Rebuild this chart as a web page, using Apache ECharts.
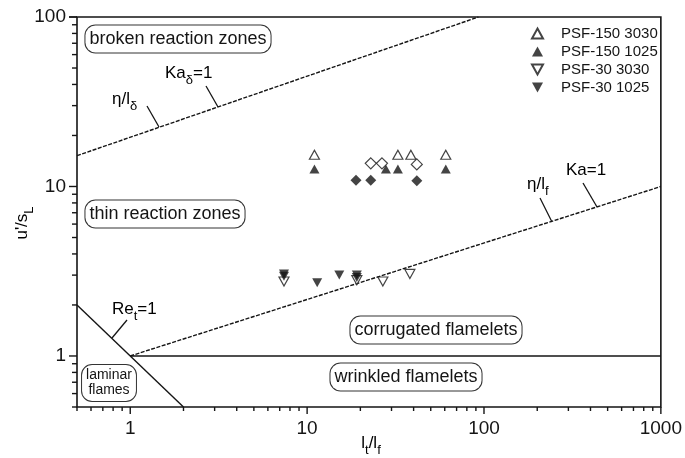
<!doctype html>
<html>
<head>
<meta charset="utf-8">
<style>
  html, body { margin: 0; padding: 0; background: #fff; }
  #main { width: 685px; height: 458px; }
</style>
</head>
<body>
<div id="main"></div>
<script src="https://cdn.jsdelivr.net/npm/echarts@6/dist/echarts.min.js"></script>
<script>
// tick labels
var xTickLabels = [1, 10, 100, 1000];
var yTickLabels = [1, 10, 100];

// measurements
var psf150_3030 = [[11.0, 15.4], [32.6, 15.4], [38.6, 15.4], [60.8, 15.4]];
var psf150_1025 = [[11.0, 12.7], [27.9, 12.7], [32.6, 12.7], [60.8, 12.7]];
var psf30_3030 = [[7.4, 2.75], [19.1, 2.8], [26.8, 2.75], [38.1, 3.05]];
var psf30_1025 = [[7.4, 3.05], [7.4, 2.95], [11.4, 2.7], [15.2, 3.0], [19.1, 3.0], [19.1, 2.9]];
var openDiamonds = [[22.9, 13.7], [26.5, 13.7], [41.7, 13.5]];
var filledDiamonds = [[18.9, 10.9], [22.9, 10.9], [41.7, 10.8]];

// regime borders
var kaDeltaLine = [[0.5, 15.2], [93, 100]];
var kaLine = [[1, 1], [1000, 10]];
var reLine = [[0.5, 2], [2, 0.5]];
var flameletLine = [[1, 1], [1000, 1]];

var FONT = "'Liberation Sans', Arial, Helvetica, sans-serif";
var INK = '#151515';
var TRI_UP = 'path://M5,0 L10,9 L0,9 Z';
var TRI_DOWN = 'path://M0,0 L10,0 L5,9 Z';

function isPow10(v) {
  var l = Math.log(v) / Math.LN10;
  return Math.abs(l - Math.round(l)) < 1e-6;
}

// minor/major tick positions
var xTicks = [], yTicks = [];
[0.1, 1, 10, 100].forEach(function (d) {
  for (var k = 1; k <= 9; k++) {
    var v = +(k * d).toPrecision(6);
    if (v >= 0.5) { xTicks.push([v, 0.5]); if (v <= 100) yTicks.push([0.5, v]); }
  }
});
xTicks.push([1000, 0.5]);
yTicks.push([0.5, 100]);

function tickLabel(list) {
  return function (v) {
    for (var i = 0; i < list.length; i++) {
      if (Math.abs(v - list[i]) / list[i] < 1e-6) return String(list[i]);
    }
    return '';
  };
}

var chart = echarts.init(document.getElementById('main'));

function lineSeries(data, type) {
  return {
    type: 'line', data: data, showSymbol: false, silent: true, z: 1,
    lineStyle: { color: INK, width: 1.4, type: type || 'solid' },
    animation: false
  };
}

function scatter(name, data, symbol, filled, size) {
  return {
    name: name, type: 'scatter', data: data, symbol: symbol,
    symbolSize: size || [10, 9], z: 5,
    itemStyle: { color: filled ? INK : '#fff', borderColor: INK, borderWidth: filled ? 0 : 1.2 }
  };
}

function boxLabel(text, x, y, size) {
  return {
    type: 'text', silent: true, z: 10,
    style: {
      text: text, x: x, y: y, align: 'center', verticalAlign: 'middle',
      font: (size || 18) + 'px ' + FONT, fill: INK,
      backgroundColor: '#fff', borderColor: '#333', borderWidth: 1,
      borderRadius: 10, padding: [3, 4, 3, 4], lineHeight: size ? size + 1 : 21
    }
  };
}

var rich = {
  n: { fontSize: 17, fontFamily: FONT, color: INK, verticalAlign: 'top', lineHeight: 19 },
  s: { fontSize: 13, fontFamily: FONT, color: INK, verticalAlign: 'top', lineHeight: 15, padding: [9, 0, 0, 0] }
};

function annot(text, x, y, extra) {
  var st = { text: text, x: x, y: y, rich: rich, align: 'left', verticalAlign: 'middle' };
  if (extra) for (var k in extra) st[k] = extra[k];
  return { type: 'text', silent: true, z: 10, style: st };
}

function leader(x1, y1, x2, y2) {
  return { type: 'line', silent: true, z: 10,
    shape: { x1: x1, y1: y1, x2: x2, y2: y2 },
    style: { stroke: INK, lineWidth: 1.3 } };
}

var yTitle = annot('{n|u\'/s}{s|L}', 0, 0, { align: 'center' });
yTitle.x = 23;
yTitle.y = 223;
yTitle.rotation = Math.PI / 2;

var option = {
  backgroundColor: '#fff',
  animation: false,
  grid: { left: 77, right: 22, top: 17, bottom: 51, show: true, borderColor: INK, borderWidth: 1.6, backgroundColor: 'transparent' },
  xAxis: {
    type: 'log', logBase: 10, min: 0.5, max: 1000,
    axisLine: { show: false }, axisTick: { show: false }, splitLine: { show: false },
    axisLabel: { formatter: tickLabel(xTickLabels), fontSize: 19, fontFamily: FONT, color: INK, margin: 12, showMinLabel: true, showMaxLabel: true }
  },
  yAxis: {
    type: 'log', logBase: 10, min: 0.5, max: 100,
    axisLine: { show: false }, axisTick: { show: false }, splitLine: { show: false },
    axisLabel: { formatter: tickLabel(yTickLabels), fontSize: 19, fontFamily: FONT, color: INK, margin: 11 }
  },
  legend: {
    orient: 'vertical', left: 526, top: 21, itemGap: 3,
    itemWidth: 11, itemHeight: 10,
    data: ['PSF-150 3030', 'PSF-150 1025', 'PSF-30 3030', 'PSF-30 1025'],
    textStyle: { fontSize: 15, fontFamily: FONT, color: INK, padding: [0, 0, 0, 13] },
    selectedMode: false
  },
  series: [
    lineSeries(kaDeltaLine, [4, 1.5]),
    lineSeries(kaLine, [4, 1.5]),
    lineSeries(reLine),
    lineSeries(flameletLine),
    scatter('PSF-150 3030', psf150_3030, TRI_UP, false),
    scatter('PSF-150 1025', psf150_1025, TRI_UP, true),
    scatter('PSF-30 3030', psf30_3030, TRI_DOWN, false),
    scatter('PSF-30 1025', psf30_1025, TRI_DOWN, true),
    scatter('open diamonds', openDiamonds, 'diamond', false, 11),
    scatter('filled diamonds', filledDiamonds, 'diamond', true, 11),
    {
      type: 'custom', data: xTicks, silent: true, clip: false, encode: { x: 0, y: 1 },
      renderItem: function (params, api) {
        var v = api.value(0);
        var p = api.coord([v, 0.5]);
        var len = isPow10(v) ? 7 : 4;
        return { type: 'line', shape: { x1: p[0], y1: p[1], x2: p[0], y2: p[1] + len }, style: { stroke: INK, lineWidth: 1.4 } };
      }
    },
    {
      type: 'custom', data: yTicks, silent: true, clip: false, encode: { x: 0, y: 1 },
      renderItem: function (params, api) {
        var v = api.value(1);
        var p = api.coord([0.5, v]);
        var len = isPow10(v) ? 8 : 5;
        return { type: 'line', shape: { x1: p[0], y1: p[1], x2: p[0] - len, y2: p[1] }, style: { stroke: INK, lineWidth: 1.4 } };
      }
    }
  ],
  graphic: [
    boxLabel('broken reaction zones', 178, 39),
    boxLabel('thin reaction zones', 165, 214),
    boxLabel('corrugated flamelets', 436, 330),
    boxLabel('wrinkled flamelets', 406, 377),
    boxLabel('laminar\nflames', 109, 383, 14),
    annot('{n|η/l}{s|δ}', 112, 100),
    leader(147, 106, 159, 127),
    annot('{n|Ka}{s|δ}{n|=1}', 165, 74),
    leader(206, 86, 218, 107),
    annot('{n|η/l}{s|f}', 527, 185),
    leader(540, 198, 552, 222),
    annot('{n|Ka=1}', 566, 171),
    leader(583, 183, 597, 207),
    annot('{n|Re}{s|t}{n|=1}', 112, 310),
    leader(127, 320, 112, 338),
    yTitle,
    annot('{n|l}{s|t}{n|/l}{s|f}', 371, 444, { align: 'center' })
  ]
};

chart.setOption(option);
</script>
</body>
</html>
